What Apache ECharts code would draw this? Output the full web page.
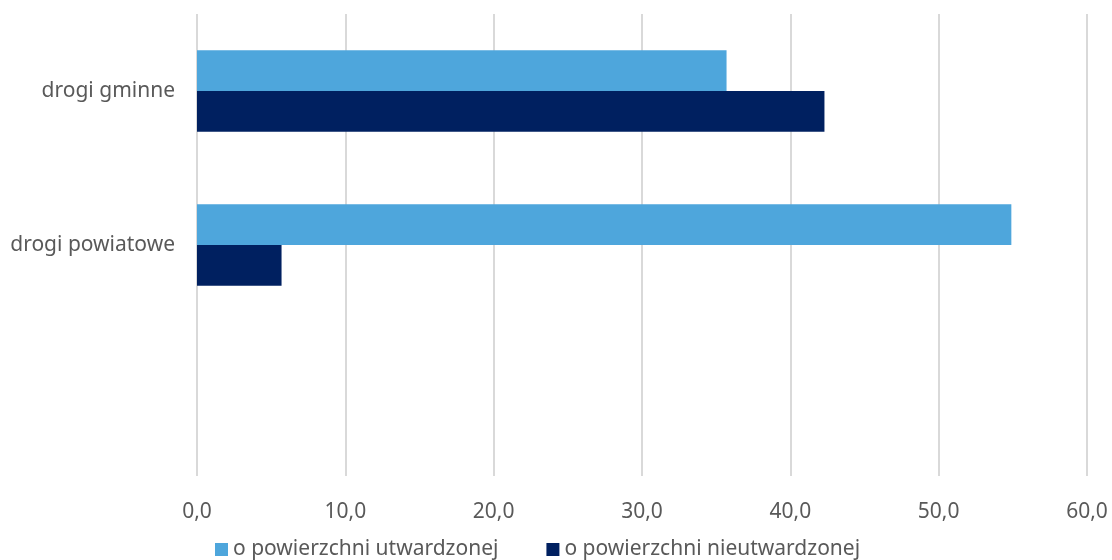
<!DOCTYPE html>
<html>
<head>
<meta charset="utf-8">
<script src="https://cdn.jsdelivr.net/npm/echarts@6/dist/echarts.min.js"></script>
<style>html,body{margin:0;padding:0;background:#fff}#c{width:1112px;height:560px}</style>
</head>
<body>
<div id="c"></div>
<script>
const categories = ['drogi gminne', 'drogi powiatowe', ''];
const seriesNames = ['o powierzchni utwardzonej', 'o powierzchni nieutwardzonej'];
const utwardzone = [35.7, 54.9, null];
const nieutwardzone = [42.3, 5.7, null];
const xTicks = { min: 0, max: 60, interval: 10 };

const chart = echarts.init(document.getElementById('c'));
const font = 'Noto Sans';
chart.setOption({
  animation: false,
  grid: { left: 197, right: 25, top: 14, bottom: 84, containLabel: false },
  legend: {
    top: 534, left: 210,
    itemWidth: 13, itemHeight: 13, itemGap: 48,
    icon: 'rect',
    textStyle: { fontFamily: font, fontSize: 21, color: '#595959', padding: [0, 0, 0, 0] },
    data: seriesNames
  },
  xAxis: {
    type: 'value', min: xTicks.min, max: xTicks.max, interval: xTicks.interval,
    axisLine: { show: false }, axisTick: { show: false },
    axisLabel: { fontFamily: font, fontSize: 21, color: '#595959', margin: 26,
      formatter: v => v.toFixed(1).replace('.', ',') },
    splitLine: { show: true, lineStyle: { color: '#D9D9D9', width: 2 } }
  },
  yAxis: {
    type: 'category', data: categories, inverse: true,
    axisLine: { show: false }, axisTick: { show: false },
    axisLabel: { fontFamily: font, fontSize: 21, color: '#595959', margin: 22 },
    splitLine: { show: false }
  },
  series: [
    { name: seriesNames[0], type: 'bar', data: utwardzone, barGap: '0%', barCategoryGap: '47%',
      itemStyle: { color: '#4EA6DC' } },
    { name: seriesNames[1], type: 'bar', data: nieutwardzone, barGap: '0%', barCategoryGap: '47%',
      itemStyle: { color: '#002060' } }
  ]
});
</script>
</body>
</html>
